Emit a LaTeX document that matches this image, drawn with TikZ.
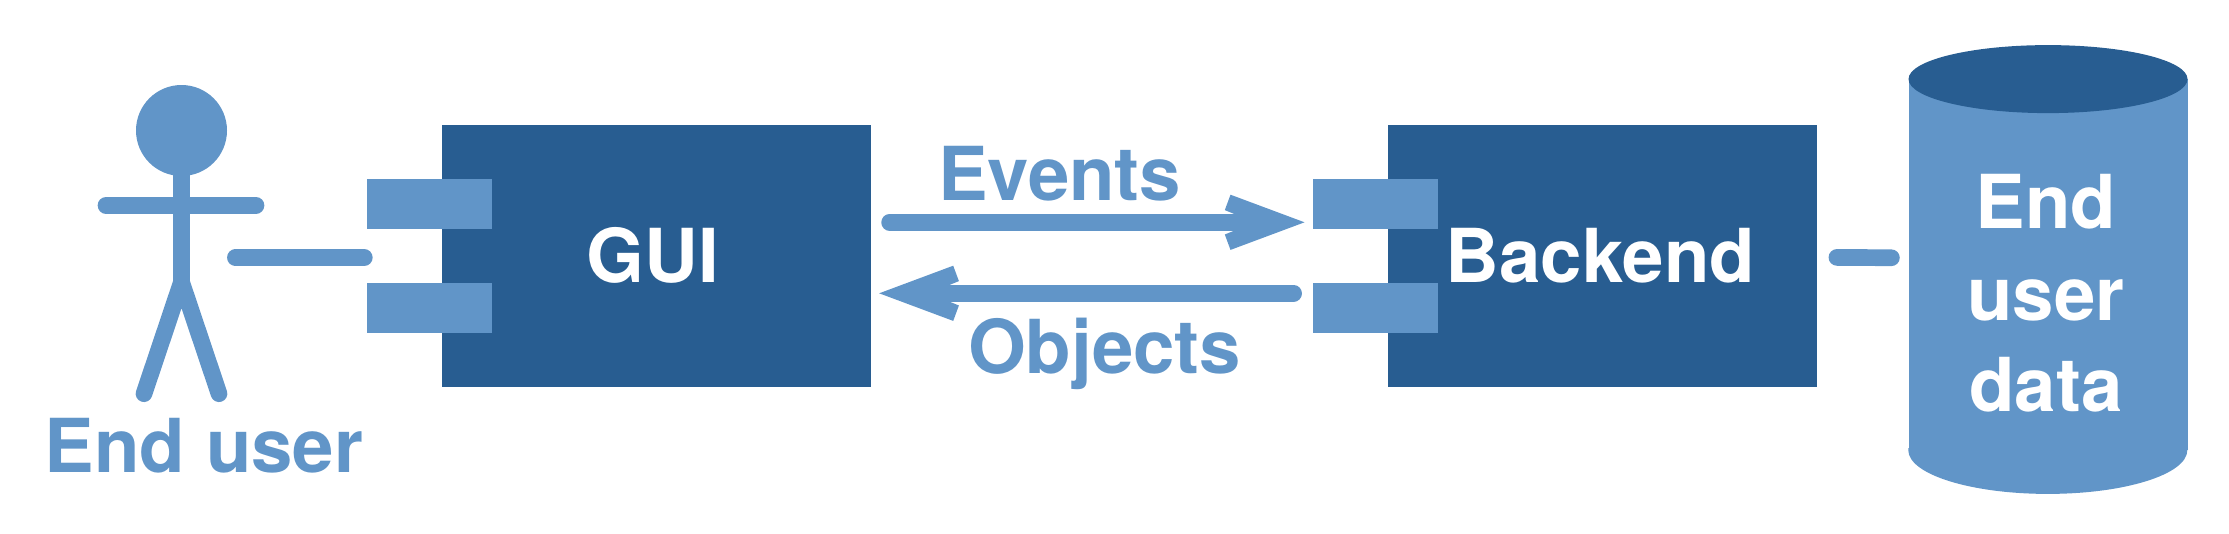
\documentclass[tikz,border=0pt]{standalone}
\usepackage{fontspec}
\setmainfont{TeX Gyre Heros}
\usetikzlibrary{shapes.geometric}
\definecolor{barlight}{HTML}{6195C8}
\definecolor{bardark}{HTML}{285D91}
\pgfdeclarearrow{
  name=Flowhead,
  setup code={
    \pgfarrowssettipend{0pt}
    \pgfarrowssetbackend{-79.7pt}
    \pgfarrowssetvisualbackend{-79.7pt}
    \pgfarrowssetlineend{-69pt}
    \pgfarrowshullpoint{0pt}{0pt}
    \pgfarrowshullpoint{-74pt}{27.6pt}
    \pgfarrowshullpoint{-74pt}{-27.6pt}
  },
  drawing code={
    \pgfsetfillcolor{barlight}
    \pgfpathmoveto{\pgfqpoint{0pt}{0pt}}
    \pgfpathlineto{\pgfqpoint{-74pt}{27.6pt}}
    \pgfpathlineto{\pgfqpoint{-79.7pt}{12.2pt}}
    \pgfpathlineto{\pgfqpoint{-69.7pt}{8.1pt}}
    \pgfpathlineto{\pgfqpoint{-69.7pt}{-8.1pt}}
    \pgfpathlineto{\pgfqpoint{-79.7pt}{-12.2pt}}
    \pgfpathlineto{\pgfqpoint{-74pt}{-27.6pt}}
    \pgfpathclose
    \pgfusepathqfill
  }
}
\tikzset{
  bigtext/.style={inner sep=0pt, font=\fontsize{74.4}{91.5}\selectfont\bfseries},
  darkbox/.style={fill=bardark, inner sep=0pt, minimum height=262.6, text=white, bigtext},
  portbox/.style={fill=barlight, inner sep=0pt, minimum width=125, minimum height=50},
  wire/.style={draw=barlight, line width=16.7, line cap=round},
  limb/.style={draw=barlight, line width=16.7, line cap=round},
  caption/.style={bigtext, anchor=base, text=barlight}
}

\begin{document}
\begin{tikzpicture}[x=1pt, y=-1pt, >=Flowhead]
  \useasboundingbox (0,0) rectangle (2229,533);
  % end user
  \node (userhead) [circle, fill=barlight, inner sep=0pt, minimum size=91] at (181.5,130.5) {};
  \coordinate (userhip) at (181.5,282);
  \coordinate (userhandl) at (106,205.35);
  \coordinate (userhandr) at (256,205.35);
  \coordinate (userfootl) at (144,393.7);
  \coordinate (userfootr) at (219,393.7);
  \coordinate (userport) at (235.4,257.6);
  \draw[limb, line cap=butt] (userhead.center) -- (userhip);
  \draw[wire] (userhandl) -- (userhandr);
  \draw[limb] (userfootl) -- (userhip) -- (userfootr);
  \node (usertext) [caption] at (204,472) {End user};
  % GUI
  \node (gui) [darkbox, minimum width=429] at (656.3,256) {};
  \node (guitop) [portbox] at (429.3,203.7) {};
  \node (guilow) [portbox] at (429.3,308) {};
  \node (guitext) [bigtext, anchor=base, text=white] at (652.8,282.7) {GUI};
  % backend
  \node (backend) [darkbox, minimum width=429] at (1602.2,256) {};
  \node (backendtop) [portbox] at (1375.1,203.7) {};
  \node (backendlow) [portbox] at (1375.1,308) {};
  \node (backendtext) [bigtext, anchor=base, text=white] at (1600.3,282.7) {Backend};
  % data store
  \node (store) [fill=barlight, inner sep=0pt, minimum width=279, minimum height=370.7] at (2048,264.65) {};
  \fill[barlight] (store.south west) arc (180:360:139.5pt and 43.7pt)
    -- ([yshift=2pt]store.south east) -- ([yshift=2pt]store.south west) -- cycle;
  \node (storelid) [ellipse, fill=bardark, inner sep=0pt, minimum width=279, minimum height=68] at (store.north) {};
  \node (storetext) [bigtext, align=center, text=white, anchor=base] at (2046,411.6) {End\\user\\data};
  % connectors
  \draw[wire] (userport) -- ([shift={(-77.3,1.6)}]gui.west);
  \path[->]
  ([shift={(18.6,-33.7)}]gui.east) edge[wire] ([shift={(-7.9,18.6)}]backendtop.west)
  ;
  \path[->]
  ([shift={(-18.8,-14.7)}]backendlow.west) edge[wire] ([shift={(8.2,37.3)}]gui.east)
  ;
  \draw[wire] ([shift={(20,1.4)}]backend.east) -- ([shift={(-16.9,-6.9)}]store.west);
  \node (eventstext) [caption] at (1059.5,200) {Events};
  \node (objectstext) [caption] at (1104.5,373.5) {Objects};
\end{tikzpicture}
\end{document}
